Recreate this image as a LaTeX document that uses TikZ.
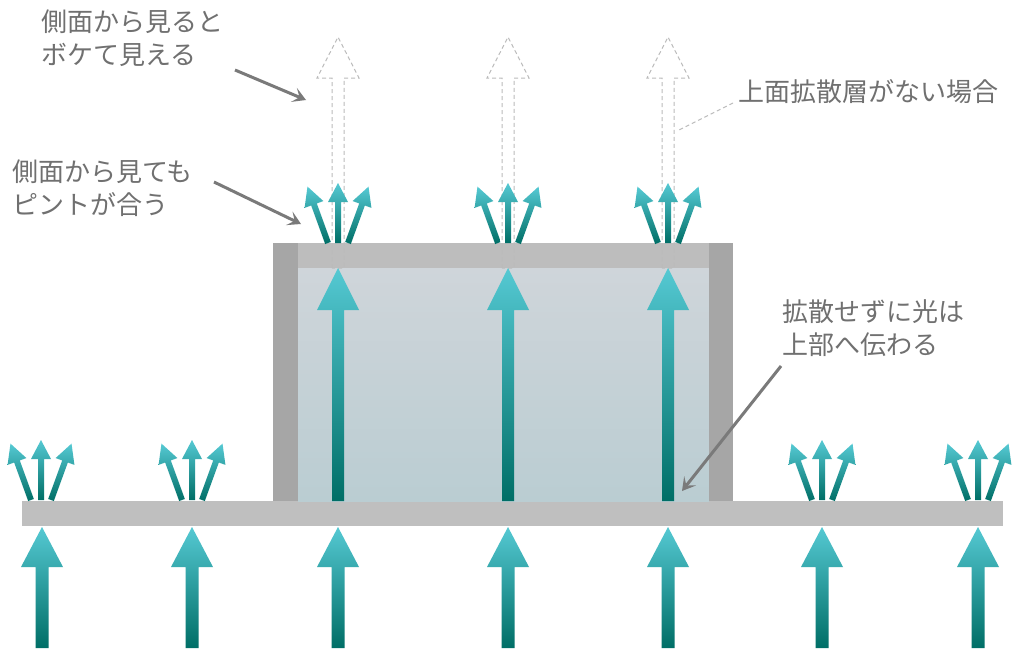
\documentclass[tikz,border=0pt]{standalone}
\usepackage{fontspec}
\setmainfont{Noto Sans CJK JP}
\usetikzlibrary{arrows.meta}
\definecolor{arrtop}{HTML}{55C9D3}
\definecolor{arrbot}{HTML}{006E66}
\definecolor{platecol}{HTML}{BFBFBF}
\definecolor{bandcol}{HTML}{BDBDBD}
\definecolor{wallcol}{HTML}{A6A6A6}
\definecolor{intop}{HTML}{CFD5DA}
\definecolor{inbot}{HTML}{BACDD2}
\definecolor{txtcol}{HTML}{707070}
\definecolor{notecol}{HTML}{7A7A7A}
\definecolor{dashcol}{HTML}{BBBBBB}
\newcommand{\flowarrow}[6]{%
  \shade[top color=arrtop,bottom color=arrbot]
    (#1-#6,#2) -- (#1-#6,#3+#4) -- (#1-#5,#3+#4) -- (#1,#3) --
    (#1+#5,#3+#4) -- (#1+#6,#3+#4) -- (#1+#6,#2) -- cycle;}
\newcommand{\sprays}[2]{%
  \begin{scope}[rotate around={20:(#1-10,#2)}]\flowarrow{#1-10}{#2}{#2-60}{19}{10}{3}\end{scope}
  \flowarrow{#1}{#2}{#2-60}{19}{10}{3}
  \begin{scope}[rotate around={-20:(#1+10,#2)}]\flowarrow{#1+10}{#2}{#2-60}{19}{10}{3}\end{scope}}
\newcommand{\ghostarrow}[1]{%
  \draw[ghost] (#1-6,268) -- (#1-6,78) -- (#1-21,78) -- (#1,37) --
    (#1+21,78) -- (#1+6,78) -- (#1+6,268) -- cycle;}
\tikzset{
  label/.style={font=\fontsize{26}{33}\selectfont, text=txtcol, inner sep=0pt, align=left, anchor=west},
  note/.style={draw=notecol, line width=3pt, -{Stealth[length=13pt,width=15pt,inset=6pt]}},
  ghost/.style={draw=dashcol, line width=1pt, dash pattern=on 4pt off 3pt},
}
\begin{document}
\begin{tikzpicture}[x=1pt,y=-1pt]
\useasboundingbox[fill=white] (0,0) rectangle (1024,648);
% base plate
\fill[platecol] (22,501) rectangle (1003,526);
% box
\shade[top color=intop,bottom color=inbot] (298,268) rectangle (709,501);
\fill[bandcol] (298,243) rectangle (709,268);
\fill[wallcol] (273,243) rectangle (298,501);
\fill[wallcol] (709,243) rectangle (733,501);
% ghost arrows (no top diffuser)
\foreach \gx in {338,508,668} {\ghostarrow{\gx}}
% bottom incoming arrows
\foreach \bx in {42,192,338,508,668,822,978} {\flowarrow{\bx}{648}{527}{40}{21}{6.5}}
% tall arrows inside box
\foreach \tx in {338,508,668} {\flowarrow{\tx}{501}{268}{42}{21}{6}}
% spray clusters
\foreach \sx in {41,192,822,978} {\sprays{\sx}{500}}
\foreach \sx in {338,508,668} {\sprays{\sx}{243}}
% labels
\node[label] (l1) at (41,38) {側面から見ると\\ボケて見える};
\node[label] (l2) at (12,188) {側面から見ても\\ピントが合う};
\node[label] (l3) at (738,92) {上面拡散層がない場合};
\node[label] (l4) at (782,328) {拡散せずに光は\\上部へ伝わる};
% annotation connectors
\coordinate (a1s) at (235,70);  \coordinate (a1e) at (306,100);
\coordinate (a2s) at (214,182); \coordinate (a2e) at (301,224);
\coordinate (a3s) at (781,366); \coordinate (a3e) at (682,491);
\coordinate (d1s) at (733,103); \coordinate (d1e) at (677,131);
\draw[note] (a1s) -- (a1e);
\draw[note] (a2s) -- (a2e);
\draw[note] (a3s) -- (a3e);
\draw[ghost] (d1s) -- (d1e);
\end{tikzpicture}
\end{document}
